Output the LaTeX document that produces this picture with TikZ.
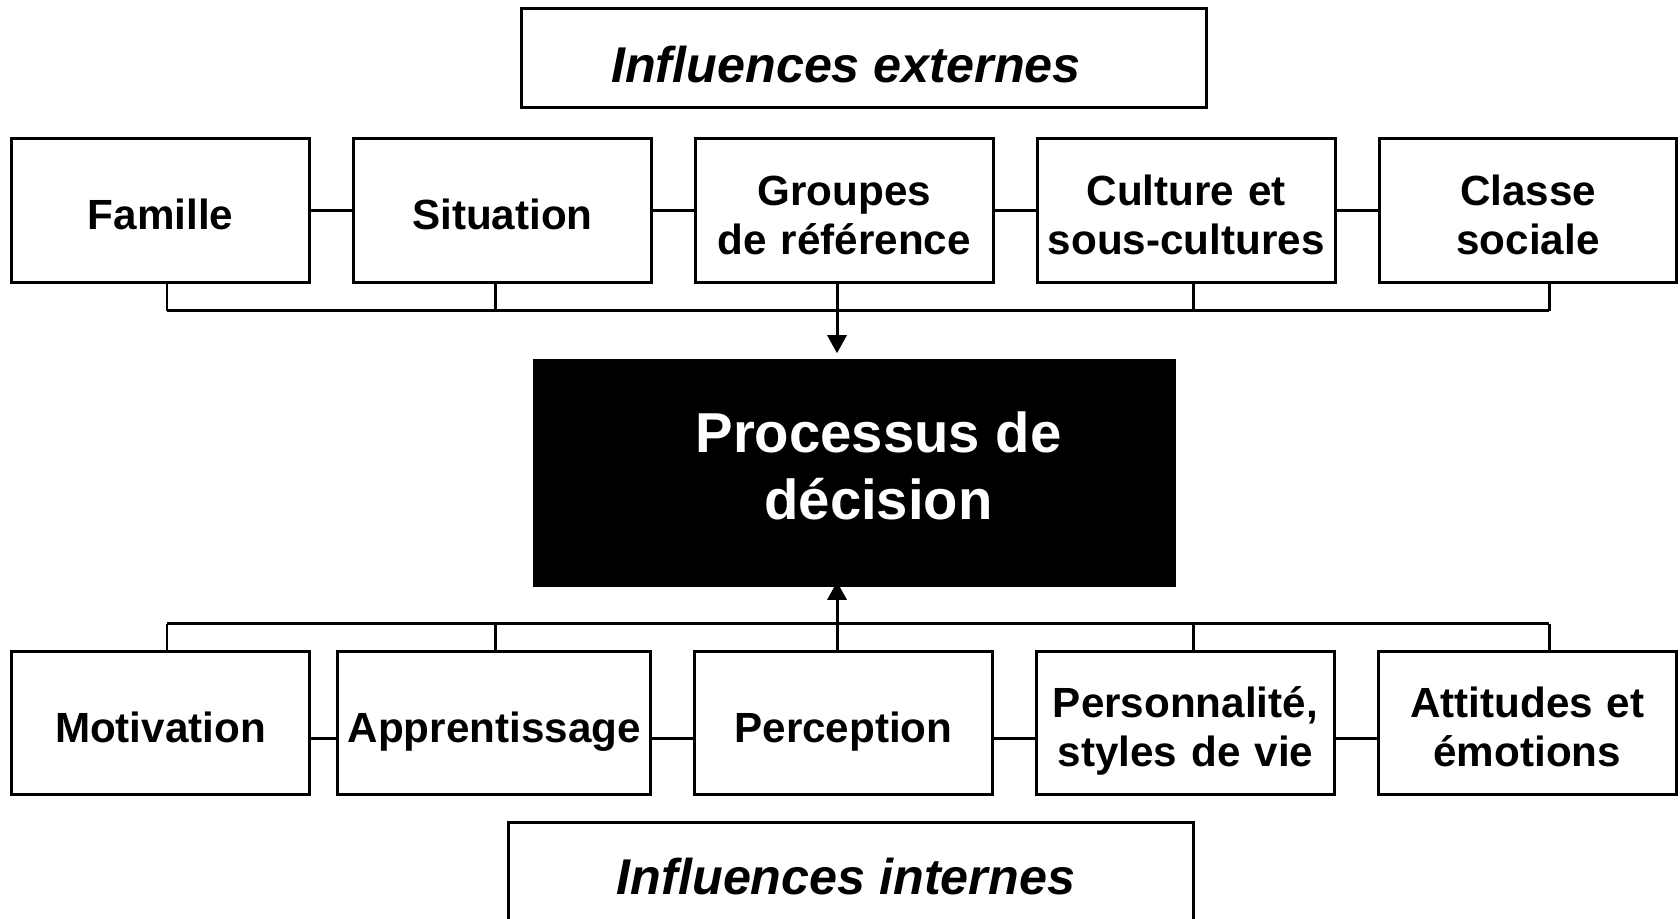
\documentclass[tikz,border=0pt]{standalone}
\usepackage{fontspec}
\setmainfont{Liberation Sans}
\usetikzlibrary{arrows.meta,positioning}
% fixed height for the first label line, fixed depth for the last one
\newcommand\lbltop{\rule{0pt}{14.2pt}}
\newcommand\lblbot{\rule[-3.3pt]{0pt}{3.3pt}}

\begin{document}
\begin{tikzpicture}[x=0.01cm, y=-0.01cm,
  box/.style={draw, line width=0.85pt, fill=white, align=center, text width=2.9cm,
              font=\fontsize{12}{14}\selectfont\bfseries, inner sep=0pt,
              minimum width=2.975cm, minimum height=1.43cm,
              execute at begin node=\lbltop, execute at end node=\lblbot},
  frame/.style={draw, line width=0.85pt, minimum width=6.84cm},
  heading/.style={font=\fontsize{14.3}{17}\selectfont\bfseries\itshape},
  link/.style={line width=0.85pt},
  arr/.style={-{Triangle[length=1.8mm, width=1.9mm]}, line width=0.85pt}
]
  \useasboundingbox (0,0) rectangle (1680,919);

  % external influences
  \node[frame, minimum height=0.99cm] (ext) at (864,58.3) {};
  \node[heading] (exttxt) at (846,65) {Influences externes};

  \node[box] (fam) at (160.5,210.5) {Famille};
  \node[box, right=0.412cm of fam] (sit) {Situation};
  \node[box, right=0.412cm of sit] (grp) {Groupes\\de référence};
  \node[box, right=0.412cm of grp] (cult) {Culture et\\sous-cultures};
  \node[box, right=0.412cm of cult] (cls) {Classe\\sociale};

  \draw[link] (fam) -- (sit);
  \draw[link] (sit) -- (grp);
  \draw[link] (grp) -- (cult);
  \draw[link] (cult) -- (cls);

  % decision
  \node[fill=black, minimum width=6.42cm, minimum height=2.28cm] (dec) at (854.5,473) {};
  \node[text=white, align=center, font=\fontsize{16}{19.2}\selectfont\bfseries]
    (dectxt) at (878.5,466) {Processus de\\décision};

  % top bus
  \coordinate (t1) at (167,310.7);
  \coordinate (t2) at (495,310.7);
  \coordinate (t3) at (837,310.7);
  \coordinate (t4) at (1193.5,310.7);
  \coordinate (t5) at (1549,310.7);
  \draw[link] (t1) -- (t5);
  \draw[link] (t1) -- (t1 |- fam.south);
  \draw[link] (t2) -- (t2 |- sit.south);
  \draw[link] (t4) -- (t4 |- cult.south);
  \draw[link] (t5) -- (t5 |- cls.south);
  \draw[arr] (t3 |- grp.south) -- ([yshift=0.05cm]t3 |- dec.north);

  % internal influences
  \node[box] (mot) at (160.5,723.2) {Motivation};
  \node[box] (perc) at (843.5,723.2) {Perception};
  \node[box, minimum width=3.124cm, text width=3.05cm, left=0.412cm of perc] (app) {Apprentissage};
  \node[box, right=0.412cm of perc] (pers) {Personnalité,\\styles de vie};
  \node[box, right=0.412cm of pers] (att) {Attitudes et\\émotions};

  \draw[link] ([yshift=-0.15cm]mot.east) -- ([yshift=-0.15cm]app.west);
  \draw[link] ([yshift=-0.15cm]app.east) -- ([yshift=-0.15cm]perc.west);
  \draw[link] ([yshift=-0.15cm]perc.east) -- ([yshift=-0.15cm]pers.west);
  \draw[link] ([yshift=-0.15cm]pers.east) -- ([yshift=-0.15cm]att.west);

  % bottom bus
  \coordinate (b1) at (167,623.6);
  \coordinate (b2) at (495,623.6);
  \coordinate (b3) at (837,623.6);
  \coordinate (b4) at (1193.5,623.6);
  \coordinate (b5) at (1549,623.6);
  \draw[link] (b1) -- (b5);
  \draw[link] (b1) -- (b1 |- mot.north);
  \draw[link] (b2) -- (b2 |- app.north);
  \draw[link] (b4) -- (b4 |- pers.north);
  \draw[link] (b5) -- (b5 |- att.north);
  \draw[arr] (b3 |- perc.north) -- ([yshift=0.06cm]b3 |- dec.south);

  \node[frame, minimum height=1.07cm] (int) at (851,876.5) {};
  \node[heading] (inttxt) at (846,876.5) {Influences internes};
\end{tikzpicture}
\end{document}
